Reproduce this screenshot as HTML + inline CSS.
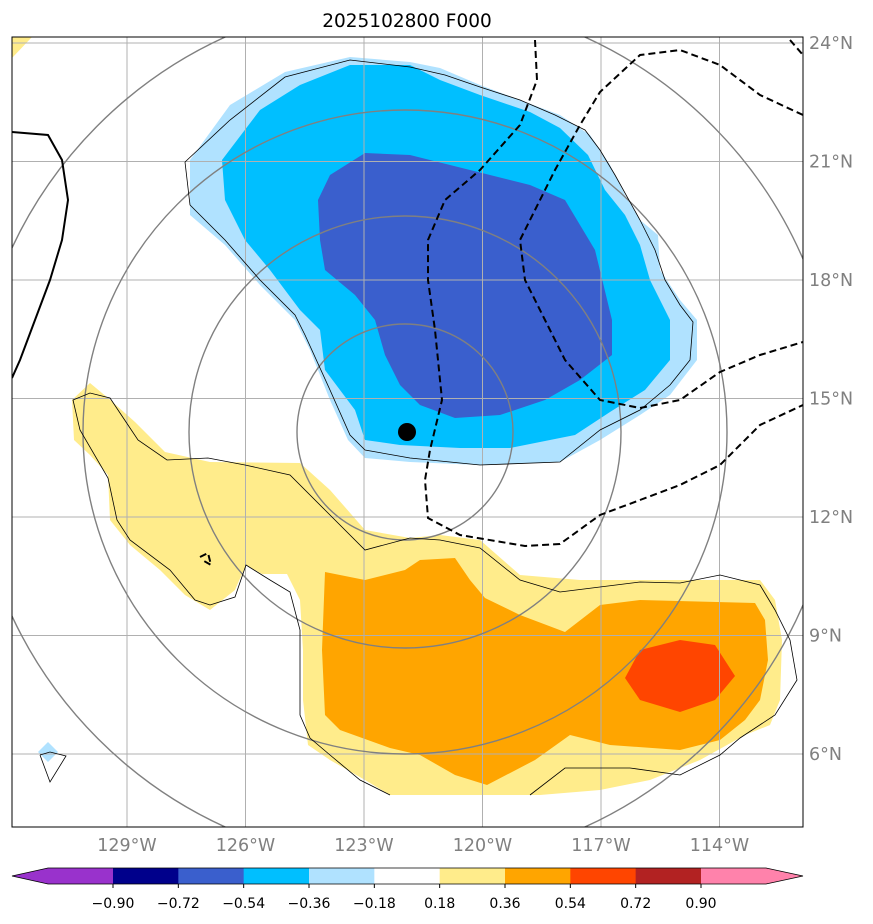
<!DOCTYPE html>
<html><head><meta charset="utf-8"><style>
body{margin:0;background:#fff;}
svg{display:block;font-family:"DejaVu Sans","Liberation Sans",sans-serif;}
</style></head><body>
<svg id="chart" width="873" height="924" viewBox="0 0 873 924" xmlns="http://www.w3.org/2000/svg">
<defs><clipPath id="mapclip"><rect x="12" y="37" width="791" height="790"/></clipPath></defs>
<text x="407" y="27" text-anchor="middle" font-size="18.5" fill="#000">2025102800 F000</text>
<g id="mapg" clip-path="url(#mapclip)"></g>
<rect x="12" y="37" width="791" height="790" fill="none" stroke="#000" stroke-width="1"/>
<g id="axes"></g>
<g id="cbar"></g>
</svg>
<script>
// ---- data (pixel-estimated, stored as lon/lat) ----
const lonTicks=[-129,-126,-123,-120,-117,-114];
const latTicks=[24,21,18,15,12,9,6];
const cbLevels=[-0.90,-0.72,-0.54,-0.36,-0.18,0.18,0.36,0.54,0.72,0.90];
const cbColors=["#9932CC","#00008B","#3A5FCD","#00BFFF","#B0E2FF","#FFFFFF","#FFEC8B","#FFA500","#FF4500","#B22222","#FF82AB"];
const PX=(x)=>-129+(x-127)/39.5, PY=(y)=>24-(y-43)/39.5;
function LL(a){const r=[];for(let i=0;i<a.length;i+=2)r.push([PX(a[i]),PY(a[i+1])]);return r;}
const lightBlue=LL([190,160,230,105,285,72,350,57,410,62,440,68,480,85,520,100,560,115,590,135,610,165,625,195,640,220,658,235,660,270,680,300,697,320,697,360,670,395,640,415,600,440,560,462,480,465,410,462,365,458,348,440,330,400,310,350,295,320,260,285,225,245,190,215]);
const midBlue=LL([222,160,260,110,300,85,350,65,410,65,440,80,480,95,530,112,560,128,588,155,605,190,625,215,640,245,650,280,670,320,670,360,645,390,610,412,575,435,510,448,460,448,400,445,365,440,355,410,325,370,320,330,300,310,270,270,245,240,225,200]);
const darkBlue=LL([318,200,330,175,365,153,410,155,450,165,490,175,530,185,565,200,580,225,595,250,612,320,612,355,580,380,545,400,500,415,455,418,420,405,400,385,385,355,375,320,355,295,325,270,320,240]);
const yellow=LL([72,400,90,383,108,398,135,422,165,452,210,462,300,463,330,490,365,530,410,538,440,535,480,540,520,575,580,580,640,580,760,580,775,600,782,640,780,700,770,725,745,735,700,760,650,780,600,790,540,795,390,795,365,780,330,760,308,745,303,700,303,650,300,600,287,574,262,574,246,565,235,590,210,610,185,595,160,570,130,545,110,520,108,475,90,455,74,440]);
const yellowCorner=LL([12,37,32,37,12,58]);
const orange=LL([325,572,365,580,405,570,420,560,455,558,470,580,485,598,520,615,565,632,600,605,640,600,755,603,765,620,768,660,760,700,745,720,720,740,680,750,610,745,570,735,535,760,487,785,455,775,420,755,390,748,340,730,325,715,322,650]);
const red=LL([640,650,680,640,715,645,735,676,715,700,680,712,640,700,625,678]);
const blueDot=LL([48,742,58,752,48,762,38,752]);
const coastA=LL([185,162,230,120,285,77,350,60,410,67,445,75,480,87,520,100,555,115,585,130,600,150,615,175,640,220,655,250,665,280,680,305,693,322,690,360,670,385,640,410,600,430,560,462,480,465,410,458,365,450,350,435,330,390,305,335,295,315,260,280,225,240,190,205,185,162]);
const coastB=LL([390,795,360,780,330,755,310,738,300,715,300,630,290,592,270,580,246,565,235,597,210,605,195,600,170,570,130,540,117,520,108,478,80,430,73,400,90,393,110,398,138,440,167,460,208,458,245,465,290,475,325,510,365,550,410,538,440,540,480,548,520,580,560,592,640,582,680,583,720,575,760,585,775,610,790,640,797,680,775,715,740,738,720,755,680,775,630,768,565,768,530,795]);
const coastC=LL([40,755,50,752,66,756,50,782,40,755]);
const thickLine=LL([12,132,48,135,62,160,68,200,62,240,50,280,35,320,20,360,12,378]);
const dashA=LL([535,40,537,80,520,125,480,170,445,200,428,240,428,280,435,330,442,400,430,450,425,480,428,518,460,535,525,546,560,544,600,515,640,500,680,485,720,465,760,425,803,405]);
const dashB=LL([803,115,760,95,720,65,680,50,640,55,600,92,580,125,555,170,520,240,525,280,545,320,565,360,600,400,640,408,680,400,720,372,760,355,803,342]);
const dashC=LL([790,40,803,55]);
const dashD=LL([200,557,208,553,211,565,204,561]);
const ringCenter=[PX(405),PY(432)];
const ringRadiiDeg=[108/39.5,216/39.5,322/39.5,434/39.5];
const stormCenter=[PX(407),PY(432)];
// ---- axes ----
const x=(lon)=>127+(lon+129)*39.5;
const y=(lat)=>43+(24-lat)*39.5;
const NS="http://www.w3.org/2000/svg";
function mk(tag,attrs,parent,txt){const e=document.createElementNS(NS,tag);for(const k in attrs)e.setAttribute(k,attrs[k]);if(txt!==undefined)e.textContent=txt;parent.appendChild(e);return e;}
const pts=(p)=>p.map(q=>x(q[0]).toFixed(1)+","+y(q[1]).toFixed(1)).join(" ");
const g=document.getElementById("mapg");
function poly(p,fill,name){const e=mk("polygon",{points:pts(p),fill:fill,stroke:"none"},g);

}
poly(yellowCorner,"#FFEC8B","fill-yellow-corner");
poly(yellow,"#FFEC8B","fill-0.18-0.36");
poly(orange,"#FFA500","fill-0.36-0.54");
poly(red,"#FF4500","fill-0.54-0.72");
poly(lightBlue,"#B0E2FF","fill-neg-0.36-0.18");
poly(midBlue,"#00BFFF","fill-neg-0.54-0.36");
poly(darkBlue,"#3A5FCD","fill-neg-0.72-0.54");
poly(blueDot,"#B0E2FF","fill-small-blue");
lonTicks.forEach(l=>{const e=mk("line",{x1:x(l),x2:x(l),y1:37,y2:827,stroke:"#b0b0b0","stroke-width":1},g);

});
latTicks.forEach(l=>{const e=mk("line",{x1:12,x2:803,y1:y(l),y2:y(l),stroke:"#b0b0b0","stroke-width":1},g);

});
ringRadiiDeg.forEach(r=>{const e=mk("circle",{cx:x(ringCenter[0]),cy:y(ringCenter[1]),r:r*39.5,fill:"none",stroke:"#808080","stroke-width":1.4},g);

});
function line(p,attrs,name){const e=mk("polyline",Object.assign({points:pts(p),fill:"none"},attrs),g);

}
line(coastA,{stroke:"#000","stroke-width":0.8},"coastline");
line(coastB,{stroke:"#000","stroke-width":0.8},"coastline");
line(coastC,{stroke:"#000","stroke-width":0.8},"coastline");
line(thickLine,{stroke:"#000","stroke-width":2},"solid-contour");
[dashA,dashB,dashC,dashD].forEach(d=>line(d,{stroke:"#000","stroke-width":2,"stroke-dasharray":"7,4"},"dashed-contour"));
const dot=mk("circle",{cx:x(stormCenter[0]),cy:y(stormCenter[1]),r:9,fill:"#000"},g);


const ax=document.getElementById("axes");
lonTicks.forEach(l=>{const t=mk("text",{x:x(l),y:851,"text-anchor":"middle","font-size":17.5,fill:"#808080"},ax,Math.abs(l)+"°W");

});
latTicks.forEach(l=>{const t=mk("text",{x:809,y:y(l)+6,"font-size":17.5,fill:"#808080"},ax,l+"°N");

});
const cb=document.getElementById("cbar");
const cx0=113, cw=(701-113)/9, yT=868, yB=884, ym=876;
const bx=(i)=>cx0+i*cw;
for(let i=0;i<cbColors.length;i++){
 let el;
 if(i===0){el=mk("polygon",{points:`12,${ym} 48,${yT} ${bx(0)},${yT} ${bx(0)},${yB} 48,${yB}`,fill:cbColors[i]},cb);}
 else if(i===cbColors.length-1){el=mk("polygon",{points:`${bx(9)},${yT} 766,${yT} 803,${ym} 766,${yB} ${bx(9)},${yB}`,fill:cbColors[i]},cb);}
 else{el=mk("rect",{x:bx(i-1),y:yT,width:cw+0.5,height:yB-yT,fill:cbColors[i]},cb);}
 
 
}
const outline=mk("polygon",{points:`12,${ym} 48,${yT} 766,${yT} 803,${ym} 766,${yB} 48,${yB}`,fill:"none",stroke:"#000","stroke-width":0.8},cb);


cbLevels.forEach((v,i)=>{
 const tk=mk("line",{x1:bx(i),x2:bx(i),y1:yB,y2:yB+4,stroke:"#000"},cb);
 
 
 const t=mk("text",{x:bx(i),y:908,"text-anchor":"middle","font-size":14,fill:"#000"},cb,(v<0?"\u2212":"")+Math.abs(v).toFixed(2));
 
 
});
</script>
</body></html>
